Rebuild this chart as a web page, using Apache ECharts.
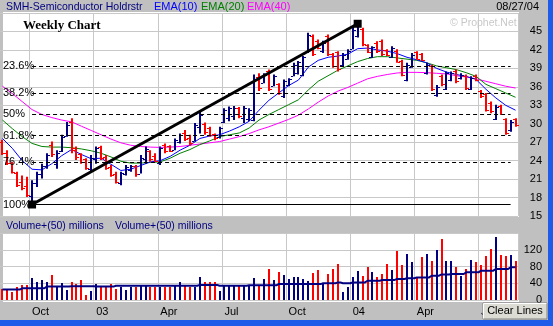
<!DOCTYPE html>
<html><head><meta charset="utf-8">
<script src="https://cdn.jsdelivr.net/npm/echarts@6/dist/echarts.min.js"></script>
<style>html,body{margin:0;padding:0;background:#c0c0c0;overflow:hidden}#c{width:553px;height:326px}</style>
</head><body><div id="c"></div>
<script>
// ---- Weekly SMH data (week index 0 = week of 2002-08-26) ----
const weekOpen = [27.0,25.2,23.6,22.0,20.5,19.8,18.3,20.3,21.8,23.2,
26.5,23.5,25.6,28.0,30.2,26.0,25.0,24.2,22.6,24.2,
26.2,24.6,23.0,21.9,20.4,21.9,22.4,23.1,21.9,24.3,
25.5,24.8,23.6,26.6,26.3,25.8,27.0,28.5,27.6,27.2,
29.4,30.0,29.3,28.3,27.8,30.2,31.0,31.2,32.5,31.0,
30.8,30.6,37.6,36.7,38.6,36.2,36.4,34.5,36.3,37.8,
38.2,38.0,41.6,44.3,43.5,41.8,44.3,41.3,41.6,39.5,
40.6,42.2,44.2,45.4,42.8,40.9,43.2,43.5,42.0,40.9,
41.9,40.2,37.1,39.3,41.6,41.3,38.2,39.4,34.6,37.8,
35.7,37.1,38.6,37.4,37.8,35.7,37.8,35.3,34.8,33.4,
30.8,32.9,30.7,28.9,30.7];
const weekHigh = [27.4,25.7,23.8,22.2,21.6,21.4,20.8,22.2,23.5,25.2,
27.1,25.7,28.2,30.3,30.9,26.3,25.2,24.4,24.9,26.3,
26.4,24.9,23.3,22.2,22.2,23.3,23.3,23.3,24.9,26.3,
25.7,25.2,26.3,26.8,26.5,27.6,28.4,29.0,28.2,30.1,
32.0,30.2,29.5,28.4,29.5,32.5,32.8,32.9,32.7,32.9,
32.5,38.0,38.2,38.2,38.8,38.0,36.6,37.2,37.4,39.9,
40.2,41.0,44.8,44.5,43.7,43.5,44.5,41.5,41.8,41.5,
42.1,45.8,46.25,45.6,42.9,42.6,43.4,43.7,42.1,42.6,
42.1,40.4,39.9,41.5,41.8,41.5,39.9,39.6,36.3,38.0,
38.5,38.5,38.8,38.2,38.0,37.7,38.0,35.5,35.0,33.6,
33.1,33.1,30.9,30.6,30.9];
const weekLow = [24.9,23.3,21.9,19.7,19.2,18.1,16.9,19.7,21.1,22.7,
24.6,22.7,25.4,27.9,25.2,24.1,23.5,22.5,22.2,23.5,
24.1,22.5,21.4,20.3,20.0,21.6,22.2,21.4,21.9,23.5,
23.8,23.8,23.3,25.2,25.4,25.7,26.8,27.2,26.4,27.1,
28.4,28.2,27.9,27.3,27.6,30.1,30.4,30.6,30.9,30.1,
30.4,30.4,35.3,36.6,35.3,36.1,34.7,34.2,36.1,37.7,
38.0,37.7,41.5,41.0,42.1,41.5,41.0,39.1,38.5,39.3,
40.4,42.1,44.0,42.6,41.5,40.7,41.5,41.0,41.0,40.7,
39.9,37.7,36.9,39.1,40.4,40.2,38.0,35.3,34.4,36.1,
35.5,36.9,36.6,37.2,35.5,35.5,36.9,34.2,32.0,31.7,
30.6,31.4,28.2,28.7,29.5];
const weekClose = [25.2,23.6,22.2,20.0,19.6,18.4,20.4,21.9,23.2,24.9,
25.0,25.3,27.9,29.8,25.8,24.6,23.8,22.8,24.5,26.0,
24.5,22.8,21.7,20.6,22.0,22.9,23.1,21.8,24.5,25.9,
24.2,24.0,26.0,25.5,25.6,27.3,28.2,27.5,26.8,29.8,
31.5,28.6,28.2,27.6,29.3,32.2,32.5,32.6,31.2,32.6,
32.2,37.2,35.8,38.0,35.7,37.8,35.0,37.0,37.2,39.6,
40.0,40.8,44.5,41.4,42.3,43.2,41.4,39.4,38.9,41.2,
41.9,45.3,45.9,42.9,41.7,42.4,41.8,41.3,41.2,42.3,
40.1,38.0,39.6,41.2,40.6,40.4,39.6,35.6,36.0,36.4,
38.2,38.3,36.9,38.0,35.8,37.4,37.1,34.5,32.3,32.0,
32.8,31.6,28.5,30.3,29.8];
const weekVolume = [26,26,20,30,36,36,52,42,48,44,
60,34,40,24,44,38,48,12,22,38,
30,30,38,26,30,24,32,30,36,34,
32,30,32,30,32,34,42,34,32,32,
56,42,44,42,22,34,34,34,36,34,
36,52,36,50,74,48,66,60,50,54,
54,50,46,64,72,38,62,74,86,20,
30,56,70,58,80,66,56,62,86,72,
116,84,110,90,54,102,110,94,120,146,
94,94,80,58,74,96,90,84,106,122,
150,108,104,108,94];
const volumeAvg = [25,25,25,25,28,28,28,28,28,32,
32,32,32,32,33,33,33,33,33,32,
32,32,32,34,34,34,34,34,34,34,
34,34,34,34,34,34,34,34,34,34,
36,36,36,36,34,34,34,34,34,34,
35,35,35,35,35,35,38,38,38,38,
38,38,38,38,38,40,40,40,42,40,
40,42,42,42,46,46,46,48,48,48,
50,50,52,52,54,54,54,58,58,61,
61,62,62,62,66,66,66,70,70,70,
74,74,74,78,78];
// EMA readings taken every second week
const emaWeekIdx = [0,2,4,6,8,10,12,14,16,18,20,22,24,26,28,30,32,34,36,38,40,42,44,46,48,50,52,54,56,58,60,62,64,66,68,70,72,74,76,78,80,82,84,86,88,90,92,94,96,98,100,102,104];
const ema10 = [27.6,26.0,24.0,22.6,22.5,23.5,24.8,25.8,25.0,24.3,24.4,23.4,22.4,22.6,23.2,23.8,24.0,24.7,25.7,26.5,27.6,28.0,28.2,28.8,29.5,30.4,32.2,33.8,35.0,36.2,37.1,39.2,40.3,40.8,41.0,41.3,42.2,42.3,42.0,41.8,41.4,40.8,40.4,39.9,39.0,38.4,38.0,37.7,37.2,35.6,34.2,33.0,32.2];
const ema20 = [30.6,29.2,27.9,26.8,26.3,26.2,26.2,26.1,25.9,25.6,25.2,24.6,23.9,23.6,23.6,23.7,23.8,24.4,25.2,25.8,26.6,27.2,27.9,28.2,28.5,29.3,30.6,31.5,32.3,33.1,33.9,35.5,36.9,37.8,38.7,39.4,40.1,40.6,40.9,40.9,40.7,40.5,40.3,39.9,39.4,39.1,38.8,38.3,37.7,36.4,35.7,35.0,34.3];
const ema40 = [36.1,34.9,33.6,32.3,31.5,31.0,30.6,30.3,29.6,28.9,28.2,27.5,26.9,26.5,26.3,26.2,26.15,26.2,26.3,26.5,26.7,26.9,27.1,27.5,27.9,28.4,29.0,29.5,30.1,30.7,31.4,32.4,33.5,34.5,35.3,35.9,36.6,37.3,37.7,38.0,38.25,38.35,38.35,38.3,38.2,38.1,37.8,37.6,37.3,36.9,36.5,36.1,35.8];
// Trend line (low -> high) and Fibonacci retracement levels
const trendWeeks = [6, 72];
const trendPrices = [16.87, 46.25];
const fibLabels = ['23.6%','38.2%','50%','61.8%','76.4%','100%'];
const fibPrices = [39.32, 35.03, 31.56, 28.09, 23.80, 16.87];
const fibEndWeek = 103;
const priceTicks = {min: 15, max: 48, step: 3};
const volumeTicks = {min: 0, max: 160, step: 40};

// ---- categories: weekly dates ----
const weekDates = [];
for (let i = 0; i < weekOpen.length; i++) {
  const d = new Date(Date.UTC(2002, 7, 26 + 7 * i));
  weekDates.push(d.toISOString().slice(0, 10));
}
const monthNames = ['Jan','Feb','Mar','Apr','May','Jun','Jul','Aug','Sep','Oct','Nov','Dec'];
function monthOf(i) { return +weekDates[i].slice(5, 7) - 1; }
function isQuarterStart(i) {
  if (i <= 0 || i >= weekDates.length) return false;
  const m = monthOf(i);
  return m !== monthOf(i - 1) && m % 3 === 0;
}
function quarterLabel(v) {
  const m = +v.slice(5, 7) - 1;
  return m === 0 ? v.slice(2, 4) : monthNames[m];
}

const NAVY = '#000080', RED = '#ff0000', GRID = '#c8c8c8';
const FONT = '"Liberation Sans", Arial, sans-serif';

const chart = echarts.init(document.getElementById('c'), null, {renderer: 'canvas'});
const option = {
  animation: false,
  backgroundColor: '#c0c0c0',
  grid: [
    {left: 0, top: 13, width: 518, height: 203},
    {left: 0, top: 233, width: 518, height: 67}
  ],
  xAxis: [
    {type: 'category', gridIndex: 0, data: weekDates,
     axisLine: {show: false}, axisTick: {show: false}, axisLabel: {show: false},
     splitLine: {show: true, interval: (i) => isQuarterStart(i), lineStyle: {color: GRID, width: 1}}},
    {type: 'category', gridIndex: 1, data: weekDates,
     axisLine: {show: false}, axisTick: {show: false},
     axisLabel: {show: true, interval: (i) => isQuarterStart(i), formatter: quarterLabel,
       align: 'left', margin: 6, color: '#000', fontSize: 11, fontFamily: FONT},
     splitLine: {show: true, interval: (i) => isQuarterStart(i), lineStyle: {color: GRID, width: 1}}}
  ],
  yAxis: [
    {type: 'value', gridIndex: 0, position: 'right', min: priceTicks.min, max: priceTicks.max, interval: priceTicks.step,
     axisLine: {show: false}, axisTick: {show: false},
     axisLabel: {align: 'right', margin: 24, color: '#000', fontSize: 11, fontFamily: FONT, showMaxLabel: false},
     splitLine: {show: true, lineStyle: {color: GRID, width: 1}}},
    {type: 'value', gridIndex: 1, position: 'right', min: volumeTicks.min, max: volumeTicks.max, interval: volumeTicks.step,
     axisLine: {show: false}, axisTick: {show: false},
     axisLabel: {align: 'right', margin: 24, color: '#000', fontSize: 11, fontFamily: FONT, showMaxLabel: false},
     splitLine: {show: true, lineStyle: {color: GRID, width: 1}}}
  ],
  series: [
    {type: 'line', name: 'EMA(40)', xAxisIndex: 0, yAxisIndex: 0, symbol: 'none', z: 2,
     data: emaWeekIdx.map((k, j) => [k, ema40[j]]), lineStyle: {color: '#ff00ff', width: 1}},
    {type: 'line', name: 'EMA(20)', xAxisIndex: 0, yAxisIndex: 0, symbol: 'none', z: 2,
     data: emaWeekIdx.map((k, j) => [k, ema20[j]]), lineStyle: {color: '#008000', width: 1}},
    {type: 'line', name: 'EMA(10)', xAxisIndex: 0, yAxisIndex: 0, symbol: 'none', z: 2,
     data: emaWeekIdx.map((k, j) => [k, ema10[j]]), lineStyle: {color: '#0000ff', width: 1}},
    {type: 'custom', name: 'SMH', xAxisIndex: 0, yAxisIndex: 0, z: 3,
     data: weekOpen.map((o, i) => [i, o, weekHigh[i], weekLow[i], weekClose[i]]),
     encode: {x: 0, y: [1, 2, 3, 4]},
     renderItem: function (params, api) {
       const i = api.value(0);
       const pO = api.coord([i, api.value(1)]);
       const pH = api.coord([i, api.value(2)]);
       const pL = api.coord([i, api.value(3)]);
       const pC = api.coord([i, api.value(4)]);
       const col = api.value(4) >= api.value(1) ? NAVY : RED;
       const x = Math.round(pH[0]);
       return {type: 'group', children: [
         {type: 'rect', shape: {x: x - 1, y: pH[1], width: 2, height: Math.max(1, pL[1] - pH[1])}, style: {fill: col}},
         {type: 'rect', shape: {x: x - 3, y: Math.round(pO[1]), width: 2, height: 1}, style: {fill: col}},
         {type: 'rect', shape: {x: x + 1, y: Math.round(pC[1]), width: 2, height: 1}, style: {fill: col}}
       ]};
     }},
    {type: 'line', name: 'trend', xAxisIndex: 0, yAxisIndex: 0, z: 5,
     data: trendWeeks.map((k, j) => [k, trendPrices[j]]),
     symbol: 'rect', symbolSize: 8, showSymbol: true, showAllSymbol: true,
     itemStyle: {color: '#000', borderWidth: 0}, lineStyle: {color: '#000', width: 3},
     markLine: {silent: true, symbol: ['none', 'none'], label: {show: false},
       data: fibPrices.map((p, j) => [
         {coord: [trendWeeks[0], p], lineStyle: {color: '#000', width: 1, type: j === fibPrices.length - 1 ? 'solid' : [4, 3]}},
         {coord: [fibEndWeek, p]}
       ])}},
    {type: 'custom', name: 'Volume', xAxisIndex: 1, yAxisIndex: 1, z: 2,
     data: weekVolume.map((v, i) => [i, v, weekOpen[i], weekClose[i]]),
     encode: {x: 0, y: 1},
     renderItem: function (params, api) {
       const i = api.value(0);
       const top = api.coord([i, api.value(1)]);
       const base = api.coord([i, 0]);
       const col = api.value(3) >= api.value(2) ? NAVY : RED;
       const x = Math.round(top[0]);
       return {type: 'rect', shape: {x: x - 1, y: Math.round(top[1]), width: 2, height: Math.round(base[1]) - Math.round(top[1])}, style: {fill: col}};
     }},
    {type: 'line', name: 'Volume+(50)', xAxisIndex: 1, yAxisIndex: 1, step: 'middle', symbol: 'none', z: 3,
     data: volumeAvg, lineStyle: {color: NAVY, width: 2}}
  ]
};
chart.setOption(option);

function txt(x, y, text, fill, font, align, z) {
  return {type: 'text', x: x, y: y, z: z || 50,
    style: {text: text, fill: fill, font: font, textAlign: align || 'left', textVerticalAlign: 'middle',
            align: align || 'left', verticalAlign: 'middle'}};
}
const F11 = '11px ' + FONT;
const g = [
  {type: 'rect', z: -10, shape: {x: 3, y: 12, width: 516, height: 205}, style: {fill: '#ffffff'}},
  {type: 'rect', z: -10, shape: {x: 3, y: 233, width: 516, height: 69}, style: {fill: '#ffffff'}},
  txt(6, 7, 'SMH-Semiconductor Holdrstr', NAVY, '10.5px ' + FONT),
  txt(154, 7, 'EMA(10)', '#0000ff', F11),
  txt(201, 7, 'EMA(20)', '#008000', F11),
  txt(247, 7, 'EMA(40)', '#ff00ff', F11),
  txt(539, 7, '08/27/04', '#000', F11, 'right'),
  txt(450, 23, '\u00a9 Prophet.Net', '#c8c8c8', '10.5px ' + FONT),
  txt(23, 26, 'Weekly Chart', '#000', 'bold 13px "Liberation Serif", "Times New Roman", serif'),
  txt(6, 226, 'Volume+(50) millions', NAVY, '10.5px ' + FONT),
  txt(115, 226, 'Volume+(50) millions', NAVY, '10.5px ' + FONT),
  // Clear Lines button
  {type: 'rect', z: 100, shape: {x: 483, y: 303, width: 64, height: 16}, style: {fill: '#dcdcd4', stroke: '#808080', lineWidth: 1}},
  {type: 'polyline', z: 101, shape: {points: [[483.5, 318.5], [483.5, 303.5], [546.5, 303.5]]}, style: {stroke: '#ffffff', lineWidth: 1, fill: null}},
  txt(515, 311, 'Clear Lines', '#000', F11, 'center', 102),
  // window border
  {type: 'rect', z: 120, shape: {x: 548, y: 0, width: 5, height: 326}, style: {fill: '#1c5ce8'}},
  {type: 'rect', z: 120, shape: {x: 0, y: 320, width: 553, height: 6}, style: {fill: '#1c5ce8'}}
];
fibLabels.forEach((lab, j) => {
  const y = chart.convertToPixel({yAxisIndex: 0}, fibPrices[j]);
  g.push(txt(3, y, lab, '#000', F11, 'left', 60));
});
chart.setOption({graphic: g});
</script></body></html>
